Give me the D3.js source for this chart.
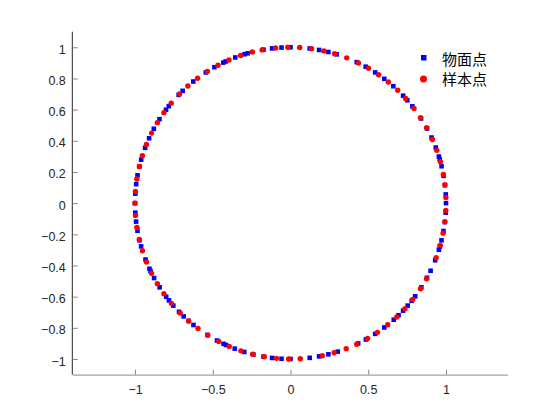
<!DOCTYPE html>
<html><head><meta charset="utf-8">
<script src="https://cdn.jsdelivr.net/npm/d3@7"></script>
<style>body{margin:0;background:#fff}svg{display:block}</style>
</head><body>
<svg id="c" width="560" height="420"></svg>
<script>
// angles (degrees) of points
const surfaceAngles = [0, 3.2, 6.6, 10.1, 13.7, 16.4, 17.4, 20.9, 24.9, 28.6, 32.9, 38.4, 41.3, 43.6, 48.6, 52.9, 57, 61.1, 64.8, 72.7, 75.9, 79.4, 82.9,
  90, 93.3, 96.8, 100, 106, 107.2, 110.8, 114.6, 115.6, 119.3, 123, 128.7, 133.9, 136, 141.5, 143.2, 147.4, 151.5, 155.4, 159.2, 163.8, 166.4, 169.7, 173, 176.5, 180,
  183.5, 186.8, 190.2, 193.8, 196.1, 201.2, 204.9, 205.8, 208.7, 212.7, 216.9, 218.6, 221.1, 224.2, 226.6, 229.1, 231.4, 237.7, 241.8, 244.5, 245.5, 249, 252.7, 256.2, 260, 263.2, 266.7, 270,
  277.1, 280.6, 284.1, 287.7, 295.8, 299, 303, 307.1, 311.6, 314, 316.4, 318.9, 321.2, 323.3, 327.3, 331.4, 334.3, 338.5, 342.6, 343.9, 346.2, 349.7, 353, 356.5];
const sampleAngles = [2.1, 6.8, 10.6, 15.4, 19.8, 24.1, 28.9, 33.3, 37.4, 42.2, 46.4, 51, 55.5, 59.9, 64.1, 68.8, 73.5, 77.6, 82.2, 86.6,
  91, 95.5, 100.5, 104.2, 108.7, 113.3, 117.8, 122.3, 126.7, 131.3, 135.5, 140.1, 144.5, 148.9, 153.3, 157.9, 162.3, 166.4, 171.1, 175.7, 180,
  184.5, 189, 193.5, 197.8, 202.2, 206.7, 211.1, 215.5, 220, 224.8, 229.1, 233.5, 237.9, 242.5, 246.8, 251.4, 255.9, 260.3, 264.8, 269.3,
  273.6, 281.8, 286.3, 291, 295.2, 299.7, 304, 308.7, 313.1, 317.4, 321.8, 326.7, 331, 339.5, 344.3, 348.9, 353.2, 357.3];
const xTicks = [-1, -0.5, 0, 0.5, 1];
const yTicks = [-1, -0.8, -0.6, -0.4, -0.2, 0, 0.2, 0.4, 0.6, 0.8, 1];
const seriesNames = ["物面点", "样本点"];

const svg = d3.select("#c");
const x = d3.scaleLinear().domain([-1.4, 1.4]).range([72.8, 508.2]);
const y = d3.scaleLinear().domain([-1.1, 1.1]).range([374.6, 31.7]);
const rad = a => a * Math.PI / 180;
const pt = a => [Math.cos(rad(a)), Math.sin(rad(a))];

// axes
const font = "'Liberation Sans', Arial, sans-serif";
const gx = svg.append("g").attr("transform", `translate(0,${y(-1.1)})`)
  .call(d3.axisBottom(x).tickValues(xTicks).tickSize(-5).tickPadding(10).tickFormat(d3.format("")));
const gy = svg.append("g").attr("transform", `translate(${x(-1.4)},0)`)
  .call(d3.axisLeft(y).tickValues(yTicks).tickSize(-5).tickPadding(7).tickFormat(d3.format("")));
gx.select(".domain").attr("stroke", "#8a8a8a").attr("d", `M${x(-1.4)},0.5H${x(1.4)}`);
gy.select(".domain").attr("stroke", "#262626").attr("d", `M-0.5,${y(1.1)}V${y(-1.1)}`);
[gx, gy].forEach(g => {
  g.selectAll(".tick line").attr("stroke", "#8a8a8a");
  g.selectAll(".tick text").attr("fill", "#262626").style("font-family", font).style("font-size", "12.5px");
});
gy.selectAll(".tick text").attr("dy", "0.48em");
gx.selectAll(".tick text").attr("dy", "0.72em");

// series
const sq = 4.6;
svg.append("g").selectAll("rect").data(surfaceAngles).join("rect")
  .attr("x", d => x(pt(d)[0]) - sq / 2).attr("y", d => y(pt(d)[1]) - sq / 2)
  .attr("width", sq).attr("height", sq).attr("fill", "#0000ff");
svg.append("g").selectAll("circle").data(sampleAngles).join("circle")
  .attr("cx", d => x(pt(d)[0])).attr("cy", d => y(pt(d)[1]))
  .attr("r", 2.7).attr("fill", "#ff0000");

// legend
const lg = svg.append("g");
lg.append("rect").attr("x", 421).attr("y", 55).attr("width", 5.5).attr("height", 5.5).attr("fill", "#0000ff");
lg.append("circle").attr("cx", 423.5).attr("cy", 79).attr("r", 3.5).attr("fill", "#ff0000");
lg.selectAll("text").data(seriesNames).join("text")
  .attr("x", 442).attr("y", (d, i) => 58.5 + i * 20.3)
  .attr("dominant-baseline", "central")
  .style("font-family", "'Noto Sans CJK SC', sans-serif").style("font-size", "15px").attr("fill", "#000")
  .text(d => d);
</script>
</body></html>
